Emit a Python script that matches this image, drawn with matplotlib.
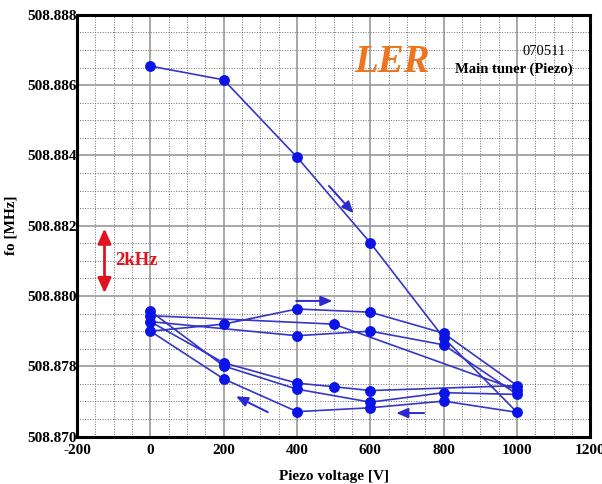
import matplotlib
matplotlib.use("Agg")
import matplotlib.pyplot as plt
from matplotlib.ticker import MultipleLocator, FixedLocator

plt.rcParams['font.family'] = ['Liberation Serif', 'DejaVu Serif']
plt.rcParams['axes.unicode_minus'] = False

# Measured tuner sweep, in measurement order
voltage = [0, 200, 400, 600, 800, 1000, 800, 600, 400, 200, 0,
           200, 400, 600, 800, 1000, 600, 500, 400, 200, 0,
           400, 600, 800, 1000, 800, 600, 400, 200, 0, 0,
           500, 1000]
freq_mhz = [508.88654, 508.88615, 508.88395, 508.88151, 508.87881, 508.87669,
            508.87701, 508.87682, 508.87671, 508.87764, 508.87900,
            508.87920, 508.87963, 508.87954, 508.87894, 508.87745,
            508.87731, 508.87742, 508.87752, 508.87810, 508.87927,
            508.87887, 508.87900, 508.87861, 508.87720, 508.87725,
            508.87698, 508.87735, 508.87801, 508.87957, 508.87944,
            508.87920, 508.87733]

# Direction arrows: (tail V, tail f, head V, head f)
dir_arrows = [
    (482, 508.88319, 559, 508.88230),
    (390, 508.87986, 504, 508.87986),
    (754, 508.87667, 663, 508.87667),
    (327, 508.87666, 227, 508.87718),
]

y_tick_values = [508.876, 508.878, 508.880, 508.882, 508.884, 508.886, 508.888]
y_tick_labels = ["508.870", "508.878", "508.880", "508.882", "508.884", "508.886", "508.888"]
x_tick_values = [-200, 0, 200, 400, 600, 800, 1000, 1200]
x_tick_labels = ["-200", "0", "200", "400", "600", "800", "1000", "1200"]

scale_v = -125
scale_lo, scale_hi = 508.880, 508.882

fig = plt.figure(figsize=(6.02, 4.84), dpi=100)
ax = fig.add_axes([77/602, 1-436.6/484, 513.4/602, 421.8/484])

ax.set_xlim(-200, 1200)
ax.set_ylim(508.876, 508.888)

ax.xaxis.set_major_locator(FixedLocator(x_tick_values))
ax.set_xticklabels(x_tick_labels)
ax.xaxis.set_minor_locator(MultipleLocator(50))
ax.yaxis.set_major_locator(FixedLocator(y_tick_values))
ax.set_yticklabels(y_tick_labels)
ax.yaxis.set_minor_locator(MultipleLocator(0.0005))

ax.grid(which='major', color='#a0a0a0', lw=1.3, ls='-')
ax.grid(which='minor', color='#707070', lw=0.7, ls=(0, (1, 1.6)))
ax.set_axisbelow(True)
ax.tick_params(which='both', length=0)
ax.tick_params(axis='y', pad=0)
ax.tick_params(axis='x', pad=5)
for lab in ax.get_xticklabels() + ax.get_yticklabels():
    lab.set_fontweight('bold')
    lab.set_fontsize(11)

for s in ax.spines.values():
    s.set_linewidth(2.2)
    s.set_color('black')

ax.plot(voltage, freq_mhz, color='#3636c8', lw=1.2, marker='o', ms=6.8,
        mfc='#0a14e6', mec='#0a14e6', zorder=3)

for tv, tf, hv, hf in dir_arrows:
    ax.annotate('', xy=(hv, hf), xytext=(tv, tf),
                arrowprops=dict(arrowstyle='-|>,head_length=0.7,head_width=0.3',
                                color='#2a2ad0', lw=1.4), zorder=4)

# 2 kHz scale bar
ax.annotate('', xy=(scale_v, scale_lo), xytext=(scale_v, scale_hi),
            arrowprops=dict(arrowstyle='<|-|>,head_length=0.9,head_width=0.4',
                            color='#e01420', lw=2.0), zorder=4)
ax.text(-95, 508.8810, '2kHz', color='#e01420', fontsize=13.5,
        fontweight='bold', va='center', ha='left')

ax.text(0.540, 0.888, 'LER', transform=ax.transAxes, color='#ee7420',
        fontsize=28, fontweight='bold', fontstyle='italic', va='center', ha='left')
ax.text(0.952, 0.912, '070511', transform=ax.transAxes, color='black',
        fontsize=10.5, va='center', ha='right')
ax.text(0.965, 0.872, 'Main tuner (Piezo)', transform=ax.transAxes, color='black',
        fontsize=10.5, fontweight='bold', va='center', ha='right')

ax.set_xlabel('Piezo voltage [V]', fontsize=11, fontweight='bold')
ax.set_ylabel('fo [MHz]', fontsize=11, fontweight='bold')
ax.xaxis.set_label_coords(0.5, -0.079)
ax.yaxis.set_label_coords(-0.115, 0.5)

fig.savefig('out.png', dpi=100, facecolor='white')
